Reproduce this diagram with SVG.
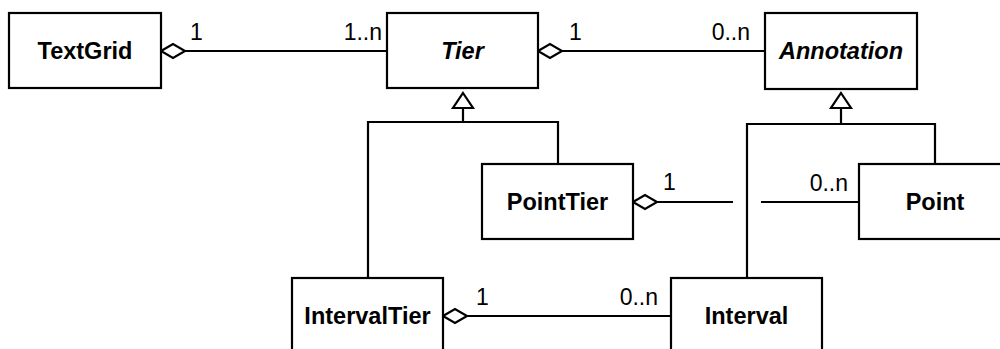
<svg xmlns="http://www.w3.org/2000/svg" width="1000" height="349" viewBox="0 0 1000 349">
<style>
.box{fill:#fff;stroke:#000;stroke-width:2.2}
.name{font-family:"Liberation Sans",Arial,sans-serif;font-size:23.5px;font-weight:bold;text-anchor:middle;fill:#000}
.abs{font-style:italic}
.lbl{font-family:"Liberation Sans",Arial,sans-serif;font-size:23px;fill:#000}
.end{text-anchor:end}
.ln{fill:none;stroke:#000;stroke-width:2.2}
.dia{fill:#fff;stroke:#000;stroke-width:2.2}
.tri{fill:#fff;stroke:#000;stroke-width:2.2}
</style>
<rect width="1000" height="349" fill="#fff"/>
<g id="connectors">
  <!-- TextGrid - Tier -->
  <line class="ln" x1="185" y1="51" x2="387" y2="51"/>
  <polygon class="dia" points="161,51 173,44 185,51 173,58"/>
  <text class="lbl" x="190" y="40">1</text>
  <text class="lbl end" x="382" y="40">1..n</text>
  <!-- Tier - Annotation -->
  <line class="ln" x1="562" y1="51" x2="765" y2="51"/>
  <polygon class="dia" points="538,51 550,44 562,51 550,58"/>
  <text class="lbl" x="569" y="40">1</text>
  <text class="lbl end" x="750" y="40">0..n</text>
  <!-- Tier generalization -->
  <polyline class="ln" points="368,278 368,122 558,122 558,164"/>
  <line class="ln" x1="463" y1="122" x2="463" y2="108"/>
  <polygon class="tri" points="463,93 473,108 453,108"/>
  <!-- Annotation generalization -->
  <polyline class="ln" points="747,278 747,124 935,124 935,164"/>
  <line class="ln" x1="841" y1="124" x2="841" y2="108"/>
  <polygon class="tri" points="841,93 851,108 831,108"/>
  <!-- PointTier - Point -->
  <polygon class="dia" points="633,202 645,195 657,202 645,209"/>
  <line class="ln" x1="657" y1="202" x2="733" y2="202"/>
  <line class="ln" x1="761" y1="202" x2="859" y2="202"/>
  <text class="lbl" x="663" y="190">1</text>
  <text class="lbl end" x="848" y="191">0..n</text>
  <!-- IntervalTier - Interval -->
  <polygon class="dia" points="443,316 455,309 467,316 455,323"/>
  <line class="ln" x1="467" y1="316" x2="671" y2="316"/>
  <text class="lbl" x="476" y="305">1</text>
  <text class="lbl end" x="658" y="305">0..n</text>
</g>
<g id="TextGrid">
  <rect class="box" x="9" y="13" width="152" height="75"/>
  <text class="name" x="85" y="59">TextGrid</text>
</g>
<g id="Tier">
  <rect class="box" x="387" y="13" width="151" height="75"/>
  <text class="name abs" x="462.5" y="59">Tier</text>
</g>
<g id="Annotation">
  <rect class="box" x="765" y="13" width="152" height="76"/>
  <text class="name abs" x="841" y="59">Annotation</text>
</g>
<g id="PointTier">
  <rect class="box" x="482" y="164" width="151" height="75"/>
  <text class="name" x="557.5" y="210">PointTier</text>
</g>
<g id="Point">
  <rect class="box" x="859" y="164" width="152" height="75"/>
  <text class="name" x="935" y="210">Point</text>
</g>
<g id="IntervalTier">
  <rect class="box" x="292" y="278" width="151" height="80"/>
  <text class="name" x="367.5" y="324">IntervalTier</text>
</g>
<g id="Interval">
  <rect class="box" x="671" y="278" width="151" height="80"/>
  <text class="name" x="746.5" y="324">Interval</text>
</g>
</svg>
